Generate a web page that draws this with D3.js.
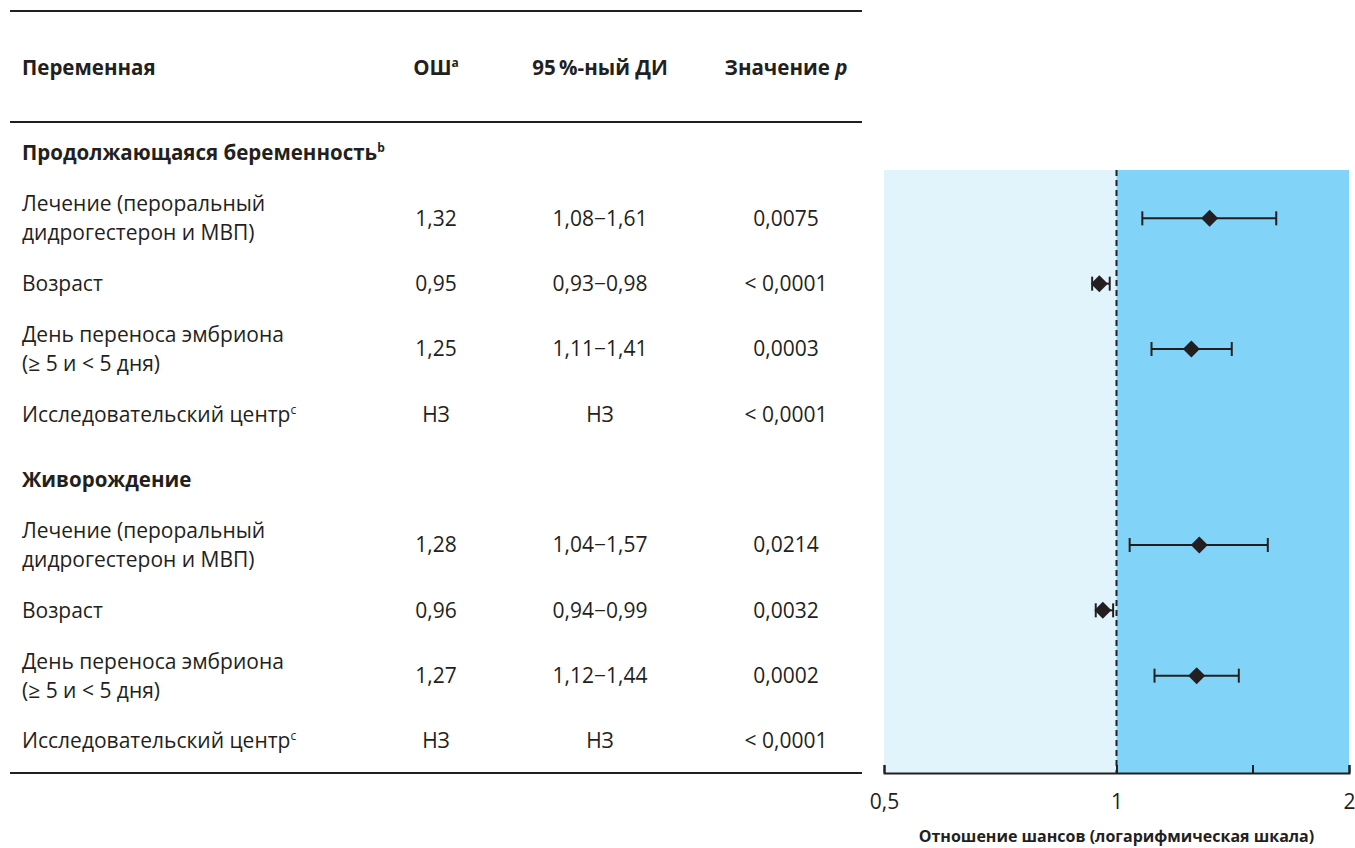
<!DOCTYPE html>
<html lang="ru">
<head>
<meta charset="UTF-8">
<title>Отношение шансов</title>
<style>
  html, body { margin: 0; background: #fff; }
  text { font-family: 'Open Sans', sans-serif; fill: #231f20; }
  .hdr { font-weight: 700; }
  .axis path, .axis line { stroke: #231f20; stroke-width: 2px; }
  .axis text { font-size: 21px; font-family: 'Open Sans', sans-serif; fill: #231f20; }
</style>
</head>
<body>
<svg id="chart" width="1355" height="848" viewBox="0 0 1355 848"></svg>
<script src="https://d3js.org/d3.v7.min.js"></script>
<script>

// ---- data ----
const sections = ["Продолжающаяся беременность", "Живорождение"];
const sectionSup = ["b", ""];
const variables = [
  ["Лечение (пероральный", "дидрогестерон и МВП)"],
  ["Возраст"],
  ["День переноса эмбриона", "(≥ 5 и < 5 дня)"],
  ["Исследовательский центр"]
];
const variableSup = ["", "", "", "c"];
const orValues = [1.32, 0.95, 1.25, null, 1.28, 0.96, 1.27, null];
const ciLow    = [1.08, 0.93, 1.11, null, 1.04, 0.94, 1.12, null];
const ciHigh   = [1.61, 0.98, 1.41, null, 1.57, 0.99, 1.44, null];
const orLabels = ["1,32", "0,95", "1,25", "НЗ", "1,28", "0,96", "1,27", "НЗ"];
const ciLabels = ["1,08−1,61", "0,93−0,98", "1,11−1,41", "НЗ", "1,04−1,57", "0,94−0,99", "1,12−1,44", "НЗ"];
const pLabels  = ["0,0075", "< 0,0001", "0,0003", "< 0,0001", "0,0214", "0,0032", "0,0002", "< 0,0001"];
const tickValues = [0.5, 1, 1.5, 2];
const tickLabels = ["0,5", "1", "", "2"];
const axisTitle = "Отношение шансов (логарифмическая шкала)";

// build row list: section header then its 4 variables
const rows = [];
sections.forEach(function (s, si) {
  rows.push({ key: "s" + si, type: "section", lines: [s], sup: sectionSup[si] });
  variables.forEach(function (v, vi) {
    const i = si * variables.length + vi;
    rows.push({ key: "r" + i, type: "row", lines: v, sup: variableSup[vi],
      or: orValues[i], lo: ciLow[i], hi: ciHigh[i],
      orLabel: orLabels[i], ciLabel: ciLabels[i], pLabel: pLabels[i] });
  });
});

const svg = d3.select("#chart");
const ink = "#231f20";

const y = d3.scalePoint().domain(rows.map(d => d.key)).range([153, 741]);
const x = d3.scaleLog().domain([0.5, 2]).range([884, 1349]);

const colOR = 436, colCI = 600, colP = 786;
const tableLeft = 10, tableRight = 862;

// ---- table rules ----
[11, 122, 773].forEach(function (yy) {
  svg.append("line")
    .attr("x1", tableLeft).attr("x2", tableRight)
    .attr("y1", yy).attr("y2", yy)
    .attr("stroke", ink).attr("stroke-width", 2);
});

// ---- header ----
const header = svg.append("g").attr("class", "hdr").style("font-size", "20.5px");
header.append("text").attr("x", 22).attr("y", 68).attr("dy", "0.35em").text("Переменная");
const hOR = header.append("text").attr("x", colOR).attr("y", 68).attr("dy", "0.35em").attr("text-anchor", "middle");
hOR.append("tspan").text("ОШ");
hOR.append("tspan").attr("dy", "-8").style("font-size", "12px").text("a");
header.append("text").attr("x", colCI).attr("y", 68).attr("dy", "0.35em").attr("text-anchor", "middle").text("95\u2009%-ный ДИ");
const hP = header.append("text").attr("x", colP).attr("y", 68).attr("dy", "0.35em").attr("text-anchor", "middle");
hP.append("tspan").text("Значение ");
hP.append("tspan").style("font-style", "italic").text("p");

// ---- plot background ----
const plotTop = 170, plotBottom = 773;
svg.append("rect")
  .attr("x", x(0.5)).attr("y", plotTop)
  .attr("width", x(1) - x(0.5)).attr("height", plotBottom - plotTop)
  .attr("fill", "#e1f4fc");
svg.append("rect")
  .attr("x", x(1)).attr("y", plotTop)
  .attr("width", x(2) - x(1)).attr("height", plotBottom - plotTop)
  .attr("fill", "#81d3f7");

svg.append("line")
  .attr("x1", x(1)).attr("x2", x(1))
  .attr("y1", plotTop).attr("y2", plotBottom)
  .attr("stroke", ink).attr("stroke-width", 2)
  .attr("stroke-dasharray", "6,4");

// ---- axis ----
const axis = d3.axisBottom(x)
  .tickValues(tickValues)
  .tickFormat((d, i) => tickLabels[i])
  .tickSizeInner(-8)
  .tickSizeOuter(-8)
  .tickPadding(21);

svg.append("g")
  .attr("class", "axis")
  .attr("transform", "translate(0," + plotBottom + ")")
  .call(axis);

svg.append("text")
  .attr("x", (x(0.5) + x(2)) / 2)
  .attr("y", 836)
  .attr("dy", "0.35em")
  .attr("text-anchor", "middle")
  .style("font-size", "16px")
  .style("font-weight", 700)
  .text(axisTitle);

// ---- table rows ----
const rowG = svg.selectAll("g.row").data(rows).join("g")
  .attr("class", "row")
  .attr("transform", d => "translate(0," + y(d.key) + ")");

const lineH = 29;
rowG.append("text")
  .attr("x", 22)
  .style("font-size", d => d.type === "section" ? "20.5px" : "21px")
  .style("font-weight", d => d.type === "section" ? 700 : 400)
  .each(function (d) {
    const t = d3.select(this);
    const n = d.lines.length;
    d.lines.forEach(function (ln, li) {
      t.append("tspan")
        .attr("x", 22)
        .attr("y", (li - (n - 1) / 2) * lineH)
        .attr("dy", "0.35em")
        .text(ln);
      if (li === n - 1 && d.sup) {
        t.append("tspan").attr("dy", "-8").style("font-size", "12px").text(d.sup);
      }
    });
  });

const dataRows = rowG.filter(d => d.type === "row");
[[colOR, "orLabel"], [colCI, "ciLabel"], [colP, "pLabel"]].forEach(function (c) {
  dataRows.append("text")
    .attr("x", c[0])
    .attr("dy", "0.35em")
    .attr("text-anchor", "middle")
    .style("font-size", "21px")
    .text(d => d[c[1]]);
});

// ---- estimates ----
const est = dataRows.filter(d => d.or != null);
est.append("line")
  .attr("x1", d => x(d.lo)).attr("x2", d => x(d.hi))
  .attr("stroke", ink).attr("stroke-width", 2);
est.append("line")
  .attr("x1", d => x(d.lo)).attr("x2", d => x(d.lo))
  .attr("y1", -7).attr("y2", 7)
  .attr("stroke", ink).attr("stroke-width", 2);
est.append("line")
  .attr("x1", d => x(d.hi)).attr("x2", d => x(d.hi))
  .attr("y1", -7).attr("y2", 7)
  .attr("stroke", ink).attr("stroke-width", 2);
est.append("path")
  .attr("d", "M0,-8.5L8.5,0L0,8.5L-8.5,0Z")
  .attr("transform", d => "translate(" + x(d.or) + ",0)")
  .attr("fill", ink);

</script>
</body>
</html>
